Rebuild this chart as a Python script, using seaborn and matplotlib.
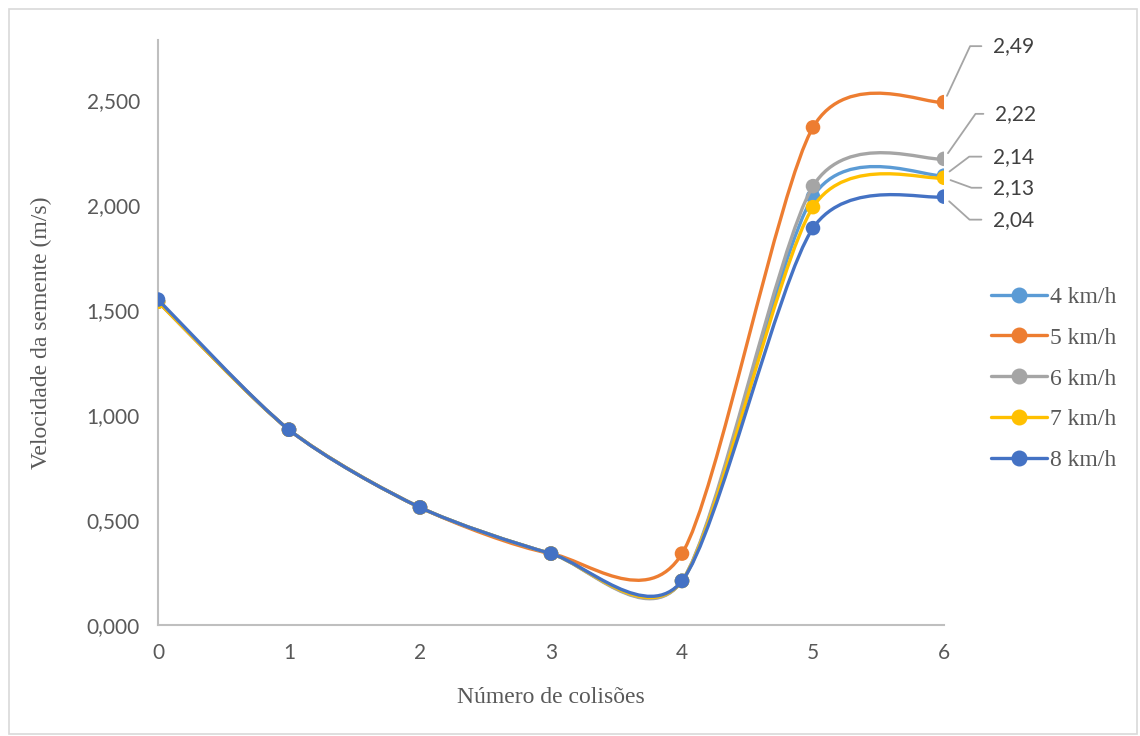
import matplotlib
matplotlib.use("Agg")
import matplotlib.pyplot as plt
import seaborn as sns
import pandas as pd
from matplotlib.path import Path
from matplotlib.patches import PathPatch, Rectangle
from matplotlib.lines import Line2D
from matplotlib.ticker import FuncFormatter

# <--- data --->
colisoes = [0, 1, 2, 3, 4, 5, 6]
v_4kmh = [1.54, 0.93, 0.56, 0.34, 0.21, 2.04, 2.14]
v_5kmh = [1.54, 0.93, 0.56, 0.34, 0.34, 2.37, 2.49]
v_6kmh = [1.54, 0.93, 0.56, 0.34, 0.21, 2.09, 2.22]
v_7kmh = [1.54, 0.93, 0.56, 0.34, 0.21, 1.99, 2.13]
v_8kmh = [1.55, 0.93, 0.56, 0.34, 0.21, 1.89, 2.04]
series_names = ["4 km/h", "5 km/h", "6 km/h", "7 km/h", "8 km/h"]
end_labels = ["2,14", "2,49", "2,22", "2,13", "2,04"]

colors = ["#5B9BD5", "#ED7D31", "#A5A5A5", "#FFC000", "#4472C4"]
# label offsets in pixels from the last point, and angle of the leader line
label_offsets = [(49, 19, 37), (49, 56, 65), (51, 45, 55), (49, -10, -20), (49, -23, -42)]

df = pd.DataFrame({"x": colisoes * 5,
                   "y": v_4kmh + v_5kmh + v_6kmh + v_7kmh + v_8kmh,
                   "serie": sum([[n] * len(colisoes) for n in series_names], [])})

sns.set_style("white")
plt.rcParams["font.family"] = ["Lato", "DejaVu Sans"]

fig = plt.figure(figsize=(11.4, 7.36), dpi=100)
ax = fig.add_axes([158 / 1140, 1 - 625 / 736, (944 - 158) / 1140, (625 - 40) / 736])


def smooth_path(xs, ys, k=1 / 7.5):
    # smoothed line like Excel: cubic Bezier with control points from neighbours
    pts = list(zip(xs, ys))
    n = len(pts)
    verts = [pts[0]]
    codes = [Path.MOVETO]
    for i in range(n - 1):
        p0 = pts[i - 1] if i > 0 else pts[i]
        p1 = pts[i]
        p2 = pts[i + 1]
        p3 = pts[i + 2] if i + 2 < n else pts[i + 1]
        c1 = (p1[0] + (p2[0] - p0[0]) * k, p1[1] + (p2[1] - p0[1]) * k)
        c2 = (p2[0] - (p3[0] - p1[0]) * k, p2[1] - (p3[1] - p1[1]) * k)
        verts += [c1, c2, p2]
        codes += [Path.CURVE4] * 3
    return Path(verts, codes)


for k, name in enumerate(series_names):
    sub = df[df["serie"] == name]
    patch = PathPatch(smooth_path(sub["x"].tolist(), sub["y"].tolist()),
                      fill=False, edgecolor=colors[k], lw=2.4,
                      capstyle="round", joinstyle="round", zorder=2 + 2 * k)
    ax.add_patch(patch)
    sns.scatterplot(data=sub, x="x", y="y", color=colors[k], s=110,
                    edgecolor="none", ax=ax, zorder=3 + 2 * k, legend=False)

# data labels at the last point
for k, name in enumerate(series_names):
    sub = df[df["serie"] == name]
    dx, dy, ang = label_offsets[k]
    ax.annotate(end_labels[k], xy=(sub["x"].iloc[-1], sub["y"].iloc[-1]),
                xytext=(dx, dy), textcoords="offset pixels",
                ha="left", va="center", fontsize=15, color="#404040",
                annotation_clip=False,
                arrowprops=dict(arrowstyle="-", color="#A5A5A5", lw=1.3,
                                shrinkA=6, shrinkB=5,
                                connectionstyle=f"angle,angleA=0,angleB={ang},rad=0"))

ax.set_xlim(0, 6)
ax.set_ylim(0, 2.786)
ax.set_xticks(colisoes)
ax.set_yticks([0, 0.5, 1.0, 1.5, 2.0, 2.5])
ax.yaxis.set_major_formatter(FuncFormatter(lambda v, p: f"{v:.3f}".replace(".", ",")))

for s in ["top", "right"]:
    ax.spines[s].set_visible(False)
for s in ["left", "bottom"]:
    ax.spines[s].set_color("#BFBFBF")
    ax.spines[s].set_linewidth(1.5)
ax.tick_params(axis="both", which="major", direction="out", length=5, width=1.3,
               color="#BFBFBF", labelsize=15, labelcolor="#595959", pad=8)

ax.set_xlabel("Número de colisões", fontsize=17, color="#595959",
              family="Liberation Serif", labelpad=17)
ax.set_ylabel("Velocidade da semente (m/s)", fontsize=17, color="#595959",
              family="Liberation Serif", labelpad=25)

handles = [Line2D([], [], color=c, lw=2.4, marker="o", markersize=10.5) for c in colors]
leg = fig.legend(handles, series_names, loc="upper left",
                 bbox_to_anchor=(970 / 1140, 1 - 265 / 736), frameon=False,
                 handlelength=2.35, labelspacing=0.82, handletextpad=0.15,
                 prop={"family": "Liberation Serif", "size": 17})
for t in leg.get_texts():
    t.set_color("#595959")

fig.patches.append(Rectangle((9 / 1140, 2 / 736), 1128 / 1140, 725 / 736,
                             transform=fig.transFigure, fill=False,
                             edgecolor="#D9D9D9", lw=1.2))

fig.savefig("out.png", dpi=100)
